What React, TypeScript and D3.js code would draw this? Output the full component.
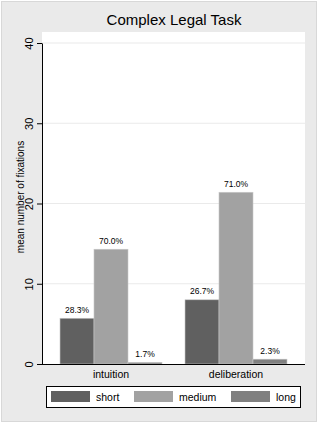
import React, { useEffect, useRef } from "react";
import * as d3 from "d3";

// categories and series
const categories = ["intuition", "deliberation"];
const seriesNames = ["short", "medium", "long"];
const shortValues = [5.7, 8.0];
const mediumValues = [14.3, 21.4];
const longValues = [0.2, 0.6];
const shortLabels = ["28.3%", "26.7%"];
const mediumLabels = ["70.0%", "71.0%"];
const longLabels = ["1.7%", "2.3%"];
const yTicks = [0, 10, 20, 30, 40];
const colors = ["#606060", "#a2a2a2", "#808080"];

const W = 318;
const H = 423;
const plot = { left: 42, right: 305, top: 32, bottom: 364 };

const App = () => {
    const ref = useRef<SVGSVGElement | null>(null);

    useEffect(() => {
        const svg = d3.select(ref.current);
        svg.selectAll("*").remove();
        const font = "'Liberation Sans', Arial, sans-serif";

        // 背景
        svg.append("rect")
            .attr("x", 1.5).attr("y", 1.5)
            .attr("width", W - 3).attr("height", H - 3)
            .attr("fill", "#eaeaea")
            .attr("stroke", "#d8d8d8");
        svg.append("rect")
            .attr("x", plot.left).attr("y", plot.top)
            .attr("width", plot.right - plot.left)
            .attr("height", plot.bottom - plot.top)
            .attr("fill", "#ffffff");

        const y = d3.scaleLinear().domain([0, 40]).range([plot.bottom, 43]);
        const x0 = d3.scaleBand().domain(categories)
            .range([plot.left, plot.right]).paddingInner(0.184).paddingOuter(0.144);
        const x1 = d3.scaleBand().domain(seriesNames).range([0, x0.bandwidth()]);

        // grid
        svg.append("g").selectAll("line")
            .data(yTicks.filter((d) => d > 0))
            .join("line")
            .attr("x1", plot.left).attr("x2", plot.right)
            .attr("y1", (d) => y(d)).attr("y2", (d) => y(d))
            .attr("stroke", "#eaeaea").attr("stroke-width", 1.2);

        // y axis
        const ya = svg.append("g")
            .attr("transform", `translate(${plot.left},0)`)
            .call(d3.axisLeft(y).tickValues(yTicks).tickSize(5).tickSizeOuter(0));
        ya.select(".domain").attr("stroke", "#000");
        ya.selectAll(".tick line").attr("stroke", "#000");
        ya.selectAll(".tick text")
            .attr("font-family", font).attr("font-size", 11).attr("fill", "#000")
            .attr("x", 0).attr("y", 0).attr("dy", 0)
            .attr("text-anchor", "middle")
            .attr("transform", "translate(-9,0) rotate(-90)");

        svg.append("text")
            .attr("transform", `translate(23.5,197) rotate(-90)`)
            .attr("text-anchor", "middle")
            .attr("font-family", font).attr("font-size", 10)
            .attr("fill", "#000")
            .text("mean number of fixations");

        // bars
        const rows = categories.map((c, i) => ({
            cat: c,
            vals: [shortValues[i], mediumValues[i], longValues[i]],
            labs: [shortLabels[i], mediumLabels[i], longLabels[i]],
        }));
        const groups = svg.append("g").selectAll("g")
            .data(rows).join("g")
            .attr("transform", (d) => `translate(${x0(d.cat)},0)`);
        groups.selectAll("rect")
            .data((d) => d.vals.map((v, j) => ({ v, s: seriesNames[j], j })))
            .join("rect")
            .attr("x", (d) => x1(d.s)!)
            .attr("y", (d) => y(d.v))
            .attr("width", x1.bandwidth())
            .attr("height", (d) => y(0) - y(d.v))
            .attr("fill", (d) => colors[d.j])
            .attr("stroke", "#c8c8c8").attr("stroke-width", 0.6);
        groups.selectAll("text")
            .data((d) => d.labs.map((l, j) => ({ l, v: d.vals[j], s: seriesNames[j] })))
            .join("text")
            .attr("x", (d) => x1(d.s)! + x1.bandwidth() / 2)
            .attr("y", (d) => y(d.v) - 5.5)
            .attr("text-anchor", "middle")
            .attr("font-family", font).attr("font-size", 8.5)
            .text((d) => d.l);

        // x axis line and labels
        svg.append("line")
            .attr("x1", plot.left).attr("x2", plot.right)
            .attr("y1", plot.bottom + 0.5).attr("y2", plot.bottom + 0.5)
            .attr("stroke", "#000");
        svg.append("g").selectAll("text")
            .data(categories).join("text")
            .attr("x", (d) => x0(d)! + x0.bandwidth() / 2)
            .attr("y", plot.bottom + 14)
            .attr("text-anchor", "middle")
            .attr("font-family", font).attr("font-size", 10.5)
            .text((d) => d);

        // title
        svg.append("text")
            .attr("x", 174).attr("y", 25)
            .attr("text-anchor", "middle")
            .attr("font-family", font).attr("font-size", 15)
            .text("Complex Legal Task");

        // legend
        const lg = svg.append("g");
        lg.append("rect")
            .attr("x", 46.5).attr("y", 386.5)
            .attr("width", 254).attr("height", 21)
            .attr("fill", "#fff").attr("stroke", "#000");
        const lx = [51, 134, 231];
        const items = lg.selectAll("g.item")
            .data(seriesNames).join("g")
            .attr("transform", (d, i) => `translate(${lx[i]},391)`);
        items.append("rect")
            .attr("width", 39).attr("height", 11)
            .attr("fill", (d, i) => colors[i]);
        items.append("text")
            .attr("x", 45).attr("y", 10)
            .attr("font-family", font).attr("font-size", 10.5)
            .text((d) => d);
    }, []);

    return (
        <svg
            ref={ref}
            width={W}
            height={H}
            style={{ position: "absolute", left: 0, top: 0, background: "#fff" }}
        />
    );
};

export default App;
